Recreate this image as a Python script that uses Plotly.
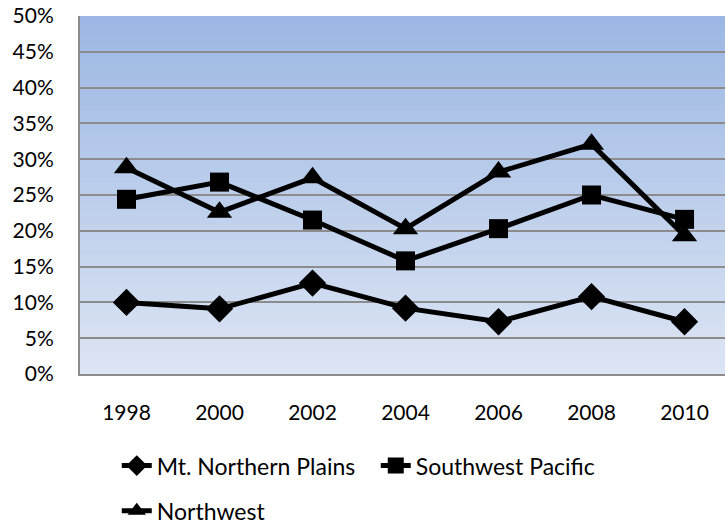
import plotly.graph_objects as go

years = ["1998", "2000", "2002", "2004", "2006", "2008", "2010"]
mt_northern_plains = [10.0, 9.1, 12.7, 9.2, 7.3, 10.8, 7.3]
southwest_pacific = [24.4, 26.8, 21.5, 15.8, 20.3, 25.0, 21.6]
northwest = [28.8, 22.6, 27.4, 20.3, 28.2, 32.1, 19.3]
y_ticks = list(range(0, 51, 5))
y_tick_labels = ["%d%%" % v for v in y_ticks]

FONT = "Lato"
fig = go.Figure()

series = [
    ("Mt. Northern Plains", mt_northern_plains, "diamond", 21, "legend"),
    ("Southwest Pacific", southwest_pacific, "square", 19, "legend"),
    ("Northwest", northwest, "triangle-up", 22, "legend2"),
]
for name, vals, sym, size, leg in series:
    fig.add_trace(go.Scatter(
        x=years, y=vals, name=name, mode="lines+markers",
        line=dict(color="black", width=5),
        marker=dict(symbol=sym, size=size, color="black"),
        legend=leg,
    ))

# gradient background (overlapping bands to avoid seams)
n = 60
top = (155, 183, 227)
bot = (221, 229, 244)
shapes = []
for i in range(n):
    t = (i + 0.5) / n
    c = tuple(int(round(bot[k] + (top[k] - bot[k]) * t)) for k in range(3))
    shapes.append(dict(type="rect", xref="paper", yref="paper",
                       x0=0, x1=1, y0=i / n, y1=min(1.0, (i + 1.6) / n),
                       fillcolor="rgb(%d,%d,%d)" % c, line=dict(width=0),
                       layer="below"))

fig.update_layout(
    width=725, height=527,
    margin=dict(l=80, r=0, t=16, b=153, autoexpand=False),
    paper_bgcolor="white",
    plot_bgcolor="rgba(0,0,0,0)",
    shapes=shapes,
    font=dict(family=FONT, size=21, color="black"),
    showlegend=True,
    legend=dict(orientation="h", x=0.057, xanchor="left", y=-0.196, yanchor="top",
                font=dict(size=23), entrywidth=214, bgcolor="rgba(0,0,0,0)"),
    legend2=dict(orientation="h", x=0.057, xanchor="left", y=-0.322, yanchor="top",
                 font=dict(size=23), bgcolor="rgba(0,0,0,0)"),
)
fig.update_xaxes(type="category", range=[-0.5, 6.435], showgrid=False,
                 showline=True, linecolor="#8c8c8c", linewidth=2, automargin=False,
                 ticks="", ticklabelstandoff=19, tickfont=dict(size=21))
fig.update_yaxes(range=[0, 50], tickvals=y_ticks, ticktext=y_tick_labels,
                 showgrid=True, gridcolor="#8c8c8c", gridwidth=2, automargin=False,
                 showline=True, linecolor="#8c8c8c", linewidth=2,
                 zeroline=False, ticks="", ticklabelstandoff=20,
                 ticklabeloverflow="allow", tickfont=dict(size=21))

fig.write_html("out.html", config={"displayModeBar": False},
               post_script="document.body.style.margin='0';")
